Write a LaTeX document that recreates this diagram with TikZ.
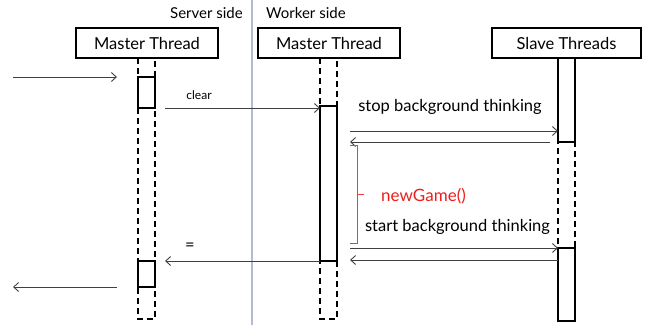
\documentclass[tikz,border=0pt]{standalone}
\usepackage{fontspec}
\setmainfont{Lato}
\usetikzlibrary{arrows.meta}
\begin{document}
\begin{tikzpicture}[x=1pt,y=-1pt,
  every node/.style={font=\fontsize{16.5}{18}\selectfont},
  actor/.style={draw,line width=1.2pt,minimum width=142pt,minimum height=30pt,inner sep=0pt},
  life/.style={draw,dash pattern=on 6pt off 4pt,line width=1.2pt},
  active/.style={draw,fill=white,line width=1.2pt},
  msg/.style={draw=black!75,line width=0.9pt,-{Straight Barb[length=5pt,width=9pt]}},
  lbl/.style={inner sep=0pt}]
\useasboundingbox (0,0) rectangle (648,325);

% separation between server and worker
\draw[color={rgb,255:red,176;green,188;blue,214},line width=1.2pt] (252,0) -- (252,325);
\node[lbl,anchor=east,font=\fontsize{15}{17}\selectfont] (srv) at (243,13) {Server side};
\node[lbl,anchor=west,font=\fontsize{15}{17}\selectfont] (wrk) at (266,13) {Worker side};

% participants
\node[actor] (m1) at (147,43) {Master Thread};
\node[actor] (m2) at (329,43) {Master Thread};
\node[actor,minimum width=149pt] (sl) at (566.5,43) {Slave Threads};

% lifelines
\draw[life] (138,58) rectangle (155,319);
\draw[life] (320,58) rectangle (337,319);
\draw[life] (558,58) rectangle (575,319);

% activations
\draw[active] (138,77) rectangle (155,108);
\draw[active] (138,261) rectangle (155,287);
\draw[active] (320,106) rectangle (337,261);
\draw[active] (558,58) rectangle (575,142);
\draw[active] (558,248) rectangle (575,321);

% endpoints of the messages
\coordinate (in0) at (13,77);   \coordinate (in1) at (117,77);
\coordinate (out0) at (117,287); \coordinate (out1) at (13,287);
\coordinate (c0) at (165,108);  \coordinate (c1) at (320,108);
\coordinate (s0) at (350,131);  \coordinate (s1) at (558,131);
\coordinate (r0) at (550,142);  \coordinate (r1) at (350,142);
\coordinate (t0) at (350,248);  \coordinate (t1) at (558,248);
\coordinate (u0) at (558,260);  \coordinate (u1) at (350,260);
\coordinate (e0) at (320,261);  \coordinate (e1) at (165,261);

\draw[msg] (in0) -- (in1);
\draw[msg] (out0) -- (out1);
\draw[msg] (c0) -- (c1);
\draw[msg] (s0) -- (s1);
\draw[msg] (r0) -- (r1);
\draw[msg] (t0) -- (t1);
\draw[msg] (u0) -- (u1);
\draw[msg] (e0) -- (e1);

% labels
\node[lbl,font=\fontsize{12}{14}\selectfont] (lc) at (199,95) {clear};
\node[lbl] (ls) at (450,107) {stop background thinking};
\node[lbl] (lt) at (457.5,227) {start background thinking};
\node[lbl] (le) at (190,247) {=};

% newGame bracket
\draw[color={rgb,255:red,240;green,60;blue,60},line width=1pt] (350,145) -- (357,145) -- (357,243) -- (350,243)
  (357,194) -- (364,194);
\node[lbl,text={rgb,255:red,235;green,30;blue,30},anchor=west,font=\fontsize{17}{19}\selectfont] (ng) at (381,196) {newGame()};
\end{tikzpicture}
\end{document}
